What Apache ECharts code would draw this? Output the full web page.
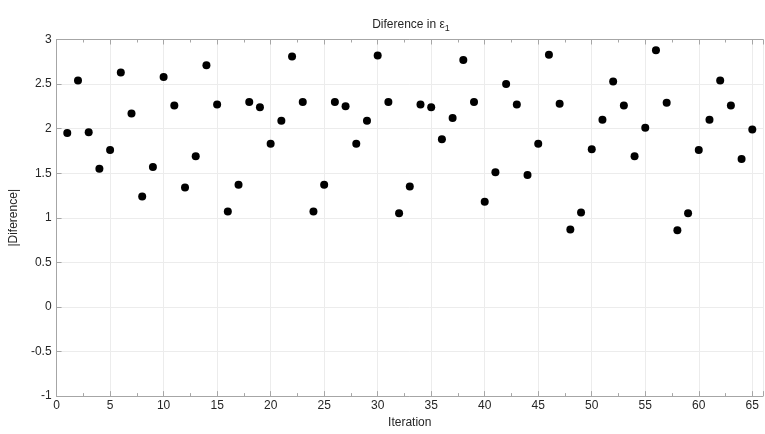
<!DOCTYPE html>
<html>
<head>
<meta charset="utf-8">
<script src="https://cdn.jsdelivr.net/npm/echarts@6/dist/echarts.min.js"></script>
<style>
    html, body { margin: 0; padding: 0; background: #fff; }
    #scatter_echarts { width: 765px; height: 434px; }
</style>
</head>
<body>
<div id="scatter_echarts"></div>
<script>
var iterations = [];
for (var i = 1; i <= 65; i++) iterations.push(i);

var difference = [
    1.95, 2.54, 1.96, 1.55, 1.76, 2.63, 2.17, 1.24, 1.57, 2.58,
    2.26, 1.34, 1.69, 2.71, 2.27, 1.07, 1.37, 2.30, 2.24, 1.83,
    2.09, 2.81, 2.30, 1.07, 1.37, 2.30, 2.25, 1.83, 2.09, 2.82,
    2.30, 1.05, 1.35, 2.27, 2.24, 1.88, 2.12, 2.77, 2.30, 1.18,
    1.51, 2.50, 2.27, 1.48, 1.83, 2.83, 2.28, 0.87, 1.06, 1.77,
    2.10, 2.53, 2.26, 1.69, 2.01, 2.88, 2.29, 0.86, 1.05, 1.76,
    2.10, 2.54, 2.26, 1.66, 1.99
];

var xTicks = [0, 5, 10, 15, 20, 25, 30, 35, 40, 45, 50, 55, 60, 65];
var yTicks = [-1, -0.5, 0, 0.5, 1, 1.5, 2, 2.5, 3];

document.addEventListener('DOMContentLoaded', function () {
    var chartDom = document.getElementById('scatter_echarts');
    var myChart = echarts.init(chartDom);
    var option;

    var font = 'Liberation Sans, Arial, sans-serif';
    var points = iterations.map(function (it, k) { return [it, difference[k]]; });

    option = {
        animation: false,
        backgroundColor: '#ffffff',
        title: {
            text: 'Diference in {e|ε}{sub|1}',
            left: 406,
            textAlign: 'center',
            top: 11,
            textStyle: {
                fontFamily: font,
                fontSize: 12,
                fontWeight: 'normal',
                color: '#262626',
                rich: {
                    e: { fontFamily: font, fontSize: 12, color: '#262626' },
                    sub: { fontFamily: font, fontSize: 9, color: '#262626', padding: [8, 0, 0, 0] }
                }
            }
        },
        grid: {
            left: 49,
            right: 2,
            top: 39.5,
            bottom: 28.5,
            show: false
        },
        xAxis: [
            {
                type: 'value',
                min: 0,
                max: 66,
                interval: 5,
                name: 'Iteration',
                nameLocation: 'middle',
                nameGap: 17,
                nameTextStyle: { fontFamily: font, fontSize: 12, color: '#262626' },
                axisLine: { show: true, onZero: false, lineStyle: { color: '#a6a6a6', width: 1 } },
                axisTick: { show: true, inside: true, length: 5, lineStyle: { color: '#a6a6a6' } },
                minorTick: { show: true, splitNumber: 2, length: 3, lineStyle: { color: '#a6a6a6' } },
                axisLabel: {
                    fontFamily: font, fontSize: 12, color: '#262626', margin: 4,
                    showMaxLabel: false,
                    formatter: function (v) { return xTicks.indexOf(v) >= 0 ? v : ''; }
                },
                splitLine: { show: true, lineStyle: { color: '#ececec', width: 1 } }
            },
            {
                type: 'value',
                position: 'top',
                min: 0,
                max: 66,
                interval: 5,
                axisLine: { show: true, onZero: false, lineStyle: { color: '#a6a6a6', width: 1 } },
                axisTick: { show: true, inside: true, length: 5, lineStyle: { color: '#a6a6a6' } },
                minorTick: { show: true, splitNumber: 2, length: 3, lineStyle: { color: '#a6a6a6' } },
                axisLabel: { show: false },
                splitLine: { show: false }
            }
        ],
        yAxis: {
            type: 'value',
            min: -1,
            max: 3,
            interval: 0.5,
            name: '|Diference|',
            nameLocation: 'middle',
            nameGap: 33,
            nameTextStyle: { fontFamily: font, fontSize: 12, color: '#262626' },
            axisLine: { show: true, onZero: false, lineStyle: { color: '#a6a6a6', width: 1 } },
            axisTick: { show: true, inside: true, length: 5, lineStyle: { color: '#a6a6a6' } },
            axisLabel: {
                fontFamily: font, fontSize: 12, color: '#262626', margin: 5,
                formatter: function (v) { return yTicks.indexOf(v) >= 0 ? String(v) : ''; }
            },
            splitLine: { show: true, lineStyle: { color: '#ececec', width: 1 } }
        },
        series: [
            {
                name: '|Diference|',
                type: 'scatter',
                symbol: 'circle',
                symbolSize: 8,
                itemStyle: { color: '#000000', opacity: 1 },
                data: points
            }
        ]
    };

    option && myChart.setOption(option);
});
</script>
</body>
</html>
